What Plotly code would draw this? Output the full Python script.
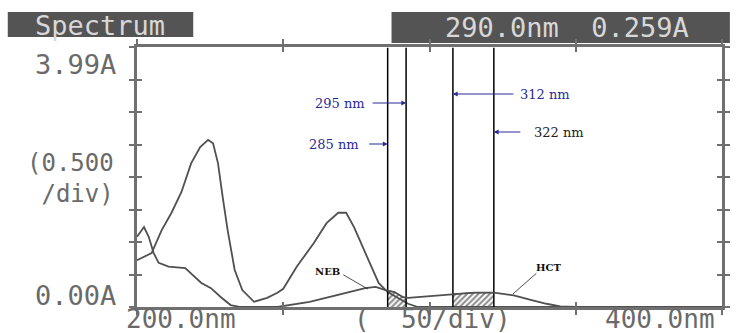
import numpy as np
import plotly.graph_objects as go

# ---- data ----
wl_a = [200, 205, 208.4, 211.8, 215.2, 218.5, 221.6, 224.3, 226, 227.7, 229.3, 231, 233.4, 236,
        240, 244.5, 248, 250, 254.6, 260.4, 264.8, 268.8, 271.5, 274.2, 277.2, 280, 282.6, 285.7,
        289.4, 292.7, 296, 300, 320, 360, 400]
abs_a = [0.72, 0.83, 1.18, 1.45, 1.77, 2.21, 2.46, 2.57, 2.52, 2.21, 1.69, 1.18, 0.57, 0.26,
         0.08, 0.14, 0.22, 0.28, 0.62, 0.98, 1.29, 1.45, 1.45, 1.23, 0.92, 0.62, 0.37, 0.23,
         0.14, 0.05, 0.0, 0.0, 0.0, 0.0, 0.0]

wl_b = [200, 202.4, 204, 205.7, 207.4, 210.8, 216.5, 219.2, 222, 225.3, 228.7, 232, 235, 248,
        259, 268, 278, 281.6, 285, 288, 291, 292.7, 298.5, 308, 315.3, 322, 328.8, 334.6, 340,
        344.7, 350, 400]
abs_b = [1.08, 1.23, 1.08, 0.83, 0.68, 0.62, 0.60, 0.49, 0.37, 0.29, 0.15, 0.03, 0.0, 0.0,
         0.08, 0.18, 0.29, 0.31, 0.26, 0.23, 0.15, 0.14, 0.16, 0.20, 0.22, 0.22, 0.18, 0.11, 0.05,
         0.01, 0.0, 0.0]

marker_nm = [285.7, 292.0, 308.0, 322.0]
bands = [(285.7, 292.0), (308.0, 322.0)]

x_ticks_labels = ["200.0nm", "(  50/div)", "400.0nm"]
y_labels = ["3.99A", "(0.500<br>&nbsp;/div)", "0.00A"]
header_left = "Spectrum"
header_right = "290.0nm  0.259A"

curve_col = "#505050"
axis_col = "#707070"
blue = "#2a2a96"

fig = go.Figure()

# hatched bands under the small curve
wb = np.array(wl_b, dtype=float)
ab = np.array(abs_b, dtype=float)
for lo, hi in bands:
    inside = (wb > lo) & (wb < hi)
    bx = np.concatenate([[lo], wb[inside], [hi]])
    by = np.concatenate([[np.interp(lo, wb, ab)], ab[inside], [np.interp(hi, wb, ab)]])
    fig.add_trace(go.Scatter(x=bx, y=by, mode="lines", fill="tozeroy",
                             line=dict(color="#333", width=1),
                             fillcolor="rgba(0,0,0,0)",
                             fillpattern=dict(shape="/", fgcolor="#111", bgcolor="white",
                                              size=4, solidity=0.5),
                             showlegend=False, hoverinfo="skip"))

fig.add_trace(go.Scatter(x=wl_a, y=abs_a, mode="lines", line=dict(color=curve_col, width=1.8),
                         name="A", showlegend=False))
fig.add_trace(go.Scatter(x=wl_b, y=abs_b, mode="lines", line=dict(color=curve_col, width=1.8),
                         name="B", showlegend=False, xaxis="x2", yaxis="y2"))

for v in marker_nm:
    fig.add_trace(go.Scatter(x=[v, v], y=[0, 3.99], mode="lines",
                             line=dict(color="black", width=1.5), showlegend=False,
                             hoverinfo="skip"))

axis_common = dict(showgrid=False, zeroline=False, showline=True, linecolor=axis_col,
                   linewidth=2.5, tickcolor=axis_col, tickwidth=1.5, ticklen=5,
                   mirror="ticks", showticklabels=False)
fig.update_layout(
    width=738, height=333,
    margin=dict(l=137, r=8, t=47, b=26),
    paper_bgcolor="white", plot_bgcolor="white",
    xaxis=dict(range=[200, 400], dtick=50, tick0=200, ticks="outside", **axis_common),
    yaxis=dict(range=[0, 4], dtick=0.5, tick0=0, ticks="outside", **axis_common),
    xaxis2=dict(range=[200, 400], dtick=50, tick0=200, ticks="inside", overlaying="x",
                **axis_common),
    yaxis2=dict(range=[0, 4], dtick=0.5, tick0=0, ticks="inside", overlaying="y",
                **axis_common),
)

def px_to_paper(px, py):
    return (px - 137) / 593.0, (307 - py) / 260.0

mono = "DejaVu Sans Mono"
anns = []
# y-axis labels
for txt, (rx, cy), sz, al in zip(y_labels, [(118, 64), (116, 178), (118, 295)],
                                 [27, 24, 27], ["right", "left", "right"]):
    xp, yp = px_to_paper(rx, cy)
    anns.append(dict(text=txt, x=xp, y=yp, xref="paper", yref="paper", xanchor="right",
                     yanchor="middle", showarrow=False, align=al,
                     font=dict(family=mono, size=sz, color="#6a6a6a")))
# x-axis labels
for txt, cx in zip(x_ticks_labels, [182, 437, 667]):
    xp, yp = px_to_paper(cx, 319)
    anns.append(dict(text=txt, x=xp, y=yp, xref="paper", yref="paper", xanchor="center",
                     yanchor="middle", showarrow=False,
                     font=dict(family=mono, size=26, color="#6a6a6a")))

# header boxes
shapes = []
for (x0, y0, x1, y1) in [(6, 12, 194, 37), (395, 12, 738, 43)]:
    a0, b0 = px_to_paper(x0, y1)
    a1, b1 = px_to_paper(x1, y0)
    shapes.append(dict(type="rect", xref="paper", yref="paper", x0=a0, y0=b0, x1=a1, y1=b1,
                       fillcolor="#545454", line=dict(width=0), layer="below"))
for txt, cx, cy in [(header_left, 100, 25), (header_right, 573, 27)]:
    xp, yp = px_to_paper(cx, cy)
    anns.append(dict(text=txt, x=xp, y=yp, xref="paper", yref="paper", xanchor="center",
                     yanchor="middle", showarrow=False,
                     font=dict(family=mono, size=27, color="#d8d8d8")))

def nm(px):
    return 200 + (px - 137) / 2.965

def ab_(py):
    return (307 - py) / 65.0

serif = "DejaVu Serif"
# wavelength labels
for txt, cx, cy, col in [("295 nm", 343, 103, blue), ("285 nm", 337, 144, blue),
                         ("312 nm", 551, 94, blue), ("322 nm", 565, 132, "#222")]:
    anns.append(dict(text=txt, x=nm(cx), y=ab_(cy), showarrow=False, xanchor="center",
                     yanchor="middle", font=dict(family=serif, size=13, color=col)))
# arrows
for xv, py, axo in [(marker_nm[1], 103, -35), (marker_nm[0], 144, -20),
                    (marker_nm[2], 94, 62), (marker_nm[3], 132, 28)]:
    anns.append(dict(text="", x=xv, y=ab_(py), ax=axo, ay=0, showarrow=True,
                     arrowhead=2, arrowsize=0.8, arrowwidth=1.2, arrowcolor=blue))

# compound labels
for txt, cx, cy in [("NEB", 330, 271), ("HCT", 554, 267)]:
    anns.append(dict(text="<b>" + txt + "</b>", x=nm(cx), y=ab_(cy), showarrow=False,
                     font=dict(family=serif, size=10, color="#111")))
for hx, hy, axo, ayo in [(371, 289, -26, -15), (518, 294, 25, -22)]:
    anns.append(dict(text="", x=nm(hx), y=ab_(hy), ax=axo, ay=ayo, showarrow=True,
                     arrowhead=0, arrowwidth=0.8, arrowcolor="#222"))

fig.update_layout(annotations=anns, shapes=shapes)
fig.write_html("out.html", config={"displayModeBar": False},
               post_script="document.body.style.margin='0';document.body.style.overflow='hidden';")
